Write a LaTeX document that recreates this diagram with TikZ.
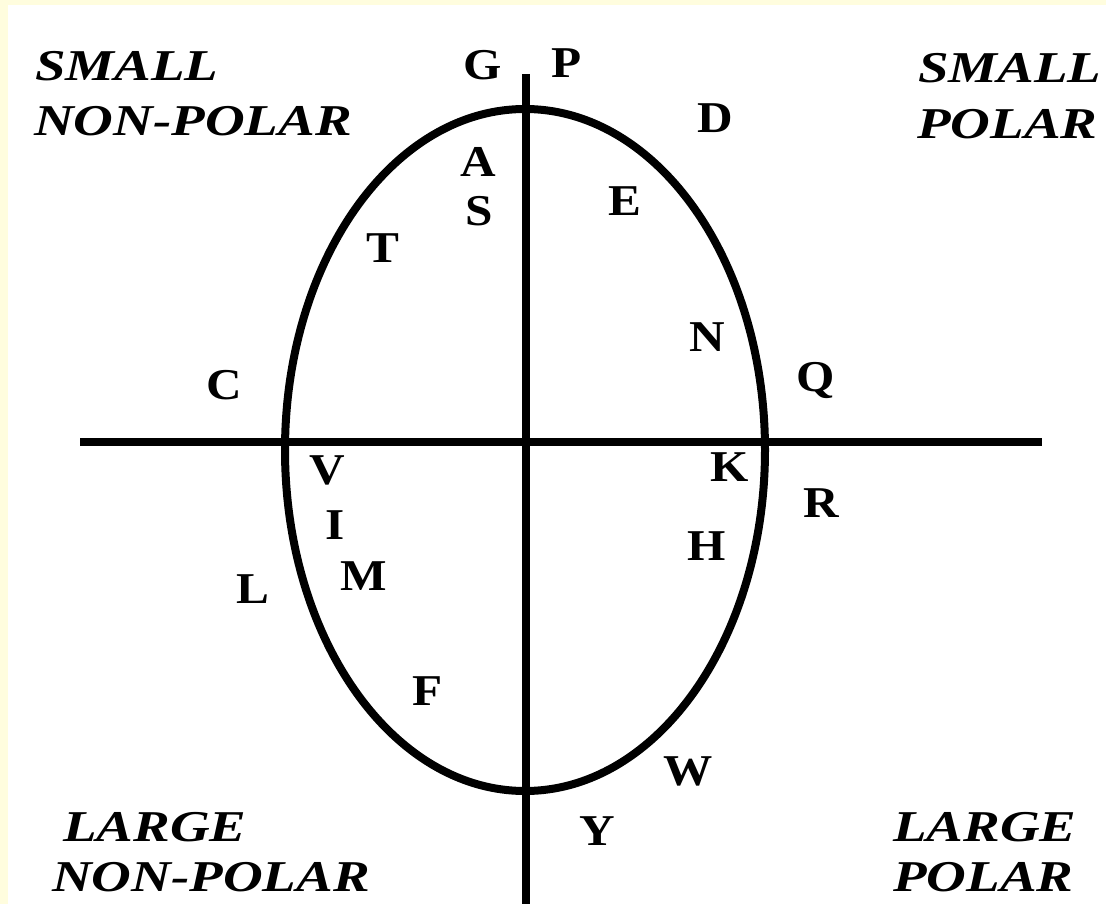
\documentclass[tikz,border=0pt]{standalone}
\usepackage{fontspec}
\setmainfont{Liberation Serif}
\definecolor{paleyel}{RGB}{255,253,222}
\newcommand{\letterw}[1]{\scalebox{1.12}[1]{#1}}
\newcommand{\cornerw}[1]{\scalebox{1.25}[1]{#1}}
\begin{document}
\begin{tikzpicture}[x=1pt,y=-1pt,
  axis/.style={line width=8pt},
  letter/.style={font=\bfseries\fontsize{44}{44}\selectfont, inner sep=0pt, anchor=center, text height=29pt, text depth=0pt},
  corner/.style={font=\bfseries\itshape\fontsize{44}{44}\selectfont, inner sep=0pt, anchor=base west}]
\fill[paleyel] (0,0) rectangle (1106,904);
\fill[white] (8,5) rectangle (1106,904);
\useasboundingbox (0,0) rectangle (1106,904);
% axes and ellipse
\coordinate (vtop) at (526,74);
\coordinate (vbot) at (526,904);
\coordinate (hl) at (80,442);
\coordinate (hr) at (1042,442);
\coordinate (ec) at (525,450);
\draw[axis] (vtop) -- (vbot);
\draw[axis] (hl) -- (hr);
\draw[axis] (ec) ellipse [x radius=240pt, y radius=341pt];
% corner labels
\node[corner] (snp1) at (35,81) {\cornerw{SMALL}};
\node[corner] (snp2) at (34,136) {\cornerw{NON-POLAR}};
\node[corner] (sp1) at (918,83) {\cornerw{SMALL}};
\node[corner] (sp2) at (917,139) {\cornerw{POLAR}};
\node[corner] (lnp1) at (63,841) {\cornerw{LARGE}};
\node[corner] (lnp2) at (52,891) {\cornerw{NON-POLAR}};
\node[corner] (lp1) at (893,841) {\cornerw{LARGE}};
\node[corner] (lp2) at (893,891) {\cornerw{POLAR}};
% letters
\node[letter] (G) at (483,65) {\letterw{G}};
\node[letter] (P) at (567,63) {\letterw{P}};
\node[letter] (D) at (715,118) {\letterw{D}};
\node[letter] (A) at (478,162) {\letterw{A}};
\node[letter] (S) at (479,211) {\letterw{S}};
\node[letter] (E) at (625,201) {\letterw{E}};
\node[letter] (T) at (383,248) {\letterw{T}};
\node[letter] (N) at (707,337) {\letterw{N}};
\node[letter] (C) at (224,385) {\letterw{C}};
\node[letter] (Q) at (816,377) {\letterw{Q}};
\node[letter] (V) at (327,470) {\letterw{V}};
\node[letter] (K) at (730,467) {\letterw{K}};
\node[letter] (R) at (821,503) {\letterw{R}};
\node[letter] (I) at (335,525) {\letterw{I}};
\node[letter] (H) at (707,546) {\letterw{H}};
\node[letter] (M) at (364,576) {\letterw{M}};
\node[letter] (L) at (253,589) {\letterw{L}};
\node[letter] (F) at (428,691) {\letterw{F}};
\node[letter] (W) at (688,771) {\letterw{W}};
\node[letter] (Y) at (597,831) {\letterw{Y}};
\end{tikzpicture}
\end{document}
